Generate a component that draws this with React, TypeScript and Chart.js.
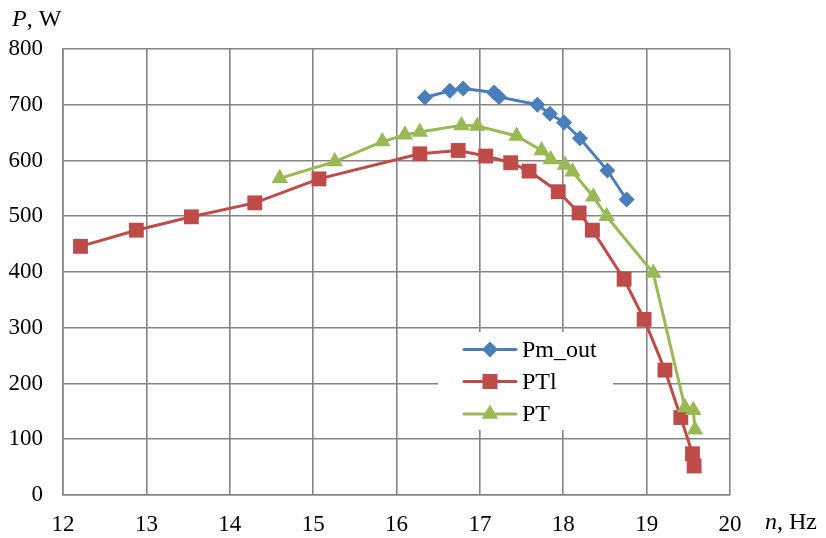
import React, { useEffect, useRef } from "react";
import { Chart, registerables } from "chart.js";

Chart.register(...registerables);

const seriesNames = ["Pm_out", "PTl", "PT"];
const seriesColors = ["#4A7EBB", "#BE4B48", "#98B954"];

const pmOutX = [16.34, 16.64, 16.8, 17.17, 17.23, 17.69, 17.84, 18.01, 18.2, 18.53, 18.76];
const pmOutY = [713, 725, 729, 722, 714, 700, 684, 668, 640, 582, 530];

const ptlX = [12.21, 12.88, 13.54, 14.3, 15.07, 16.28, 16.74, 17.07, 17.37, 17.59, 17.94, 18.19, 18.35, 18.73, 18.97, 19.22, 19.41, 19.55, 19.57];
const ptlY = [446, 475, 499, 524, 567, 612, 618, 608, 596, 581, 544, 506, 475, 387, 315, 224, 139, 74, 52];

const ptX = [14.6, 15.26, 15.83, 16.1, 16.28, 16.78, 16.97, 17.44, 17.74, 17.85, 18.02, 18.11, 18.36, 18.52, 19.08, 19.46, 19.56, 19.58];
const ptY = [568, 598, 634, 646, 651, 663, 662, 644, 618, 602, 592, 580, 535, 500, 398, 157, 152, 117];

const xTicks = [12, 13, 14, 15, 16, 17, 18, 19, 20];
const yTicks = [0, 100, 200, 300, 400, 500, 600, 700, 800];

const FONT = "'Liberation Serif', 'Times New Roman', serif";
const GRID = "#858585";

function toPoints(xs: number[], ys: number[]) {
  return xs.map((x, i) => ({ x, y: ys[i] }));
}

function drawMarker(ctx: CanvasRenderingContext2D, style: string, x: number, y: number, color: string) {
  ctx.save();
  ctx.fillStyle = color;
  ctx.beginPath();
  if (style === "rectRot") {
    const r = 8;
    ctx.moveTo(x, y - r);
    ctx.lineTo(x + r, y);
    ctx.lineTo(x, y + r);
    ctx.lineTo(x - r, y);
  } else if (style === "rect") {
    const s = 7.5;
    ctx.rect(x - s, y - s, 2 * s, 2 * s);
  } else {
    const r = 9.5;
    ctx.moveTo(x, y - r);
    ctx.lineTo(x + r * 0.866, y + r / 2);
    ctx.lineTo(x - r * 0.866, y + r / 2);
  }
  ctx.closePath();
  ctx.fill();
  ctx.restore();
}

const styles = ["rectRot", "rect", "triangle"];

const overlayPlugin = {
  id: "overlay",
  afterDraw(chart: any) {
    const ctx: CanvasRenderingContext2D = chart.ctx;
    ctx.save();
    const lx = 438, ly = 332, lw = 175, lh = 98;
    ctx.fillStyle = "#ffffff";
    ctx.fillRect(lx, ly, lw, lh);
    const rowY = [349.5, 381.5, 414];
    seriesNames.forEach((name, i) => {
      const y = rowY[i];
      ctx.strokeStyle = seriesColors[i];
      ctx.lineWidth = 3;
      ctx.lineCap = "round";
      ctx.beginPath();
      ctx.moveTo(464, y);
      ctx.lineTo(516, y);
      ctx.stroke();
      drawMarker(ctx, styles[i], 490, y, seriesColors[i]);
      ctx.fillStyle = "#000";
      ctx.font = `24px ${FONT}`;
      ctx.textBaseline = "middle";
      ctx.textAlign = "left";
      ctx.fillText(name, 522, y + 1);
    });
    ctx.fillStyle = "#000";
    ctx.textBaseline = "middle";
    ctx.textAlign = "left";
    ctx.font = `italic 24px ${FONT}`;
    ctx.fillText("P", 12, 20);
    let w = ctx.measureText("P").width;
    ctx.font = `24px ${FONT}`;
    ctx.fillText(", W", 12 + w, 20);
    ctx.font = `italic 24px ${FONT}`;
    ctx.fillText("n", 765, 523);
    w = ctx.measureText("n").width;
    ctx.font = `24px ${FONT}`;
    ctx.fillText(", Hz", 765 + w, 523);
    ctx.restore();
  },
};

export default function App() {
  const canvasRef = useRef<HTMLCanvasElement | null>(null);

  useEffect(() => {
    document.body.style.margin = "0";
    const canvas = canvasRef.current;
    if (!canvas) return;
    const mk = (i: number, xs: number[], ys: number[], order: number, radius: number) => ({
      label: seriesNames[i],
      data: toPoints(xs, ys),
      borderColor: seriesColors[i],
      backgroundColor: seriesColors[i],
      pointBackgroundColor: seriesColors[i],
      pointBorderColor: seriesColors[i],
      pointBorderWidth: 0,
      pointStyle: styles[i],
      pointRadius: radius,
      borderWidth: 3,
      tension: 0,
      order,
    });
    const chart = new Chart(canvas, {
      type: "line",
      data: {
        datasets: [
          mk(0, pmOutX, pmOutY, 3, 8),
          mk(1, ptlX, ptlY, 2, 10.5),
          mk(2, ptX, ptY, 1, 9.5),
        ],
      },
      options: {
        responsive: false,
        animation: false,
        layout: { padding: { left: 0, right: 96, top: 49, bottom: 0 } },
        plugins: { legend: { display: false }, tooltip: { enabled: false } },
        scales: {
          x: {
            type: "linear",
            min: 12,
            max: 20,
            afterBuildTicks: (scale: any) => {
              scale.ticks = xTicks.map((v) => ({ value: v }));
            },
            afterFit: (scale: any) => {
              scale.height = 43;
            },
            grid: { color: GRID, lineWidth: 1.6, drawTicks: false },
            border: { color: GRID, width: 1.6 },
            ticks: {
              padding: 16,
              color: "#000",
              font: { family: FONT, size: 23 },
              maxRotation: 0,
              autoSkip: false,
            },
          },
          y: {
            type: "linear",
            min: 0,
            max: 800,
            afterBuildTicks: (scale: any) => {
              scale.ticks = yTicks.map((v) => ({ value: v }));
            },
            afterFit: (scale: any) => {
              scale.width = 63;
            },
            grid: { color: GRID, lineWidth: 1.6, drawTicks: false },
            border: { color: GRID, width: 1.6 },
            ticks: {
              padding: 20,
              color: "#000",
              font: { family: FONT, size: 23 },
              autoSkip: false,
            },
          },
        },
      },
      plugins: [overlayPlugin],
    } as any);
    return () => chart.destroy();
  }, []);

  return (
    <div style={{ position: "absolute", left: 0, top: 0, width: 826, height: 538, background: "#fff" }}>
      <canvas ref={canvasRef} width={826} height={538} style={{ display: "block" }} />
    </div>
  );
}
